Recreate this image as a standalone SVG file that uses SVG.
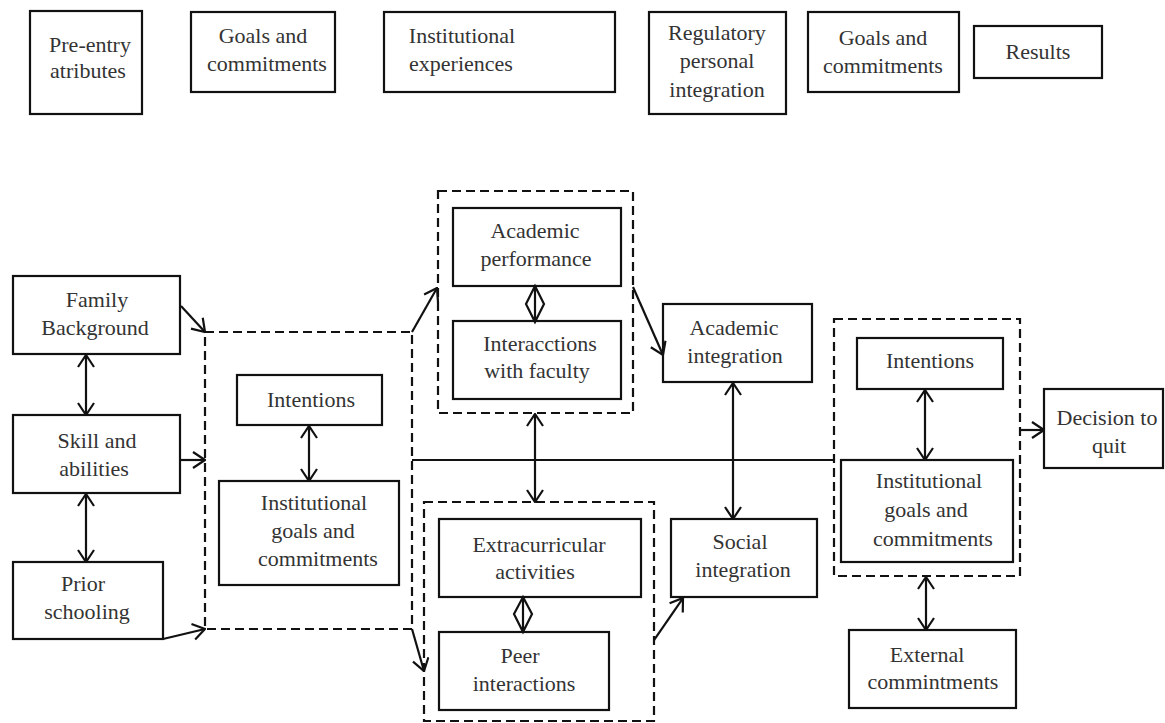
<svg xmlns="http://www.w3.org/2000/svg" width="1165" height="723" viewBox="0 0 1165 723">
<style>
.box{fill:#fff;stroke:#111;stroke-width:2.2}
.grp{fill:none;stroke:#111;stroke-width:2.2;stroke-dasharray:9,5}
.t{font-family:"Liberation Serif","DejaVu Serif",serif;font-size:22px;fill:#333;text-anchor:middle}
.c{fill:none;stroke:#111;stroke-width:2.2}
.ab{marker-end:url(#arr)}
.bi{marker-start:url(#arr);marker-end:url(#arr)}
</style>
<defs>
<marker id="arr" viewBox="0 0 14 18" refX="13" refY="9" markerWidth="14" markerHeight="18" markerUnits="userSpaceOnUse" orient="auto-start-reverse">
<path d="M1,1 L13,9 L1,17" fill="none" stroke="#111" stroke-width="2.2"/>
</marker>
</defs>
<rect width="1165" height="723" fill="#fff"/>

<!-- top row -->
<g id="pre-entry"><rect class="box" x="30" y="11" width="112" height="103"/><text class="t" x="90" y="52">Pre-entry</text><text class="t" x="88" y="78">atributes</text></g>
<g id="goals-top"><rect class="box" x="191" y="12" width="144" height="80"/><text class="t" x="263" y="43">Goals and</text><text class="t" x="267" y="71">commitments</text></g>
<g id="inst-exp"><rect class="box" x="384" y="12" width="231" height="80"/><text class="t" x="462" y="43">Institutional</text><text class="t" x="461" y="71">experiences</text></g>
<g id="regulatory"><rect class="box" x="649" y="12" width="137" height="102"/><text class="t" x="717" y="40">Regulatory</text><text class="t" x="717" y="68">personal</text><text class="t" x="717" y="97">integration</text></g>
<g id="goals-top2"><rect class="box" x="808" y="12" width="151" height="80"/><text class="t" x="883" y="45">Goals and</text><text class="t" x="883" y="73">commitments</text></g>
<g id="results"><rect class="box" x="974" y="26" width="128" height="52"/><text class="t" x="1038" y="59">Results</text></g>

<!-- groups -->
<g id="group-goals"><rect class="grp" x="205" y="332" width="207" height="297"/></g>
<g id="group-academic"><rect class="grp" x="438" y="191" width="195" height="222"/></g>
<g id="group-social"><rect class="grp" x="424" y="502" width="230" height="219"/></g>
<g id="group-final"><rect class="grp" x="834" y="319" width="186" height="257"/></g>

<!-- nodes -->
<g id="family"><rect class="box" x="13" y="276" width="167" height="78"/><text class="t" x="97" y="307">Family</text><text class="t" x="95" y="335">Background</text></g>
<g id="skill"><rect class="box" x="13" y="415" width="167" height="78"/><text class="t" x="97" y="448">Skill and</text><text class="t" x="94" y="476">abilities</text></g>
<g id="prior"><rect class="box" x="13" y="562" width="150" height="77"/><text class="t" x="83" y="591">Prior</text><text class="t" x="87" y="619">schooling</text></g>
<g id="intentions1"><rect class="box" x="237" y="375" width="145" height="50"/><text class="t" x="311" y="407">Intentions</text></g>
<g id="igc1"><rect class="box" x="219" y="481" width="180" height="104"/><text class="t" x="314" y="510">Institutional</text><text class="t" x="313" y="538">goals and</text><text class="t" x="318" y="566">commitments</text></g>
<g id="acad-perf"><rect class="box" x="453" y="208" width="168" height="78"/><text class="t" x="535" y="238">Academic</text><text class="t" x="536" y="266">performance</text></g>
<g id="interactions-faculty"><rect class="box" x="453" y="321" width="168" height="78"/><text class="t" x="540" y="351">Interacctions</text><text class="t" x="537" y="378">with faculty</text></g>
<g id="extracurricular"><rect class="box" x="439" y="519" width="202" height="78"/><text class="t" x="539" y="552">Extracurricular</text><text class="t" x="535" y="579">activities</text></g>
<g id="peer"><rect class="box" x="439" y="632" width="170" height="78"/><text class="t" x="520" y="663">Peer</text><text class="t" x="524" y="691">interactions</text></g>
<g id="acad-int"><rect class="box" x="663" y="304" width="149" height="78"/><text class="t" x="734" y="335">Academic</text><text class="t" x="735" y="363">integration</text></g>
<g id="social-int"><rect class="box" x="671" y="519" width="146" height="78"/><text class="t" x="740" y="549">Social</text><text class="t" x="743" y="577">integration</text></g>
<g id="intentions2"><rect class="box" x="857" y="338" width="146" height="51"/><text class="t" x="930" y="368">Intentions</text></g>
<g id="igc2"><rect class="box" x="841" y="460" width="172" height="102"/><text class="t" x="929" y="488">Institutional</text><text class="t" x="926" y="517">goals  and</text><text class="t" x="933" y="546">commitments</text></g>
<g id="external"><rect class="box" x="849" y="630" width="167" height="78"/><text class="t" x="927" y="662">External</text><text class="t" x="933" y="689">commintments</text></g>
<g id="decision"><rect class="box" x="1044" y="389" width="119" height="79"/><text class="t" x="1107" y="425">Decision to</text><text class="t" x="1109" y="453">quit</text></g>

<!-- connectors -->
<g id="connectors">
<path class="c ab" d="M181,306 L205,332"/>
<path class="c ab" d="M180,460 L205,460"/>
<path class="c ab" d="M163,639 L205,629"/>
<path class="c bi" d="M86,355 L86,415"/>
<path class="c bi" d="M86,494 L86,562"/>
<path class="c bi" d="M309,426 L309,481"/>
<path class="c ab" d="M412,332 L437,288"/>
<path class="c ab" d="M412,629 L424,671"/>
<path class="c" d="M412,460 L834,460"/>
<path class="c bi" d="M535,414 L535,502"/>
<path class="c ab" d="M633,287 L663,355"/>
<path class="c ab" d="M654,640 L683,598"/>
<path class="c bi" d="M733,383 L733,519"/>
<path class="c bi" d="M925,390 L925,460"/>
<path class="c bi" d="M926,577 L926,630"/>
<path class="c ab" d="M1020,430 L1044,430"/>
<path class="c" d="M535,286 L544,304 L535,322 L526,304 Z M535,286 L535,322"/>
<path class="c" d="M523,597 L532,614 L523,632 L514,614 Z M523,597 L523,632"/>
</g>
</svg>
